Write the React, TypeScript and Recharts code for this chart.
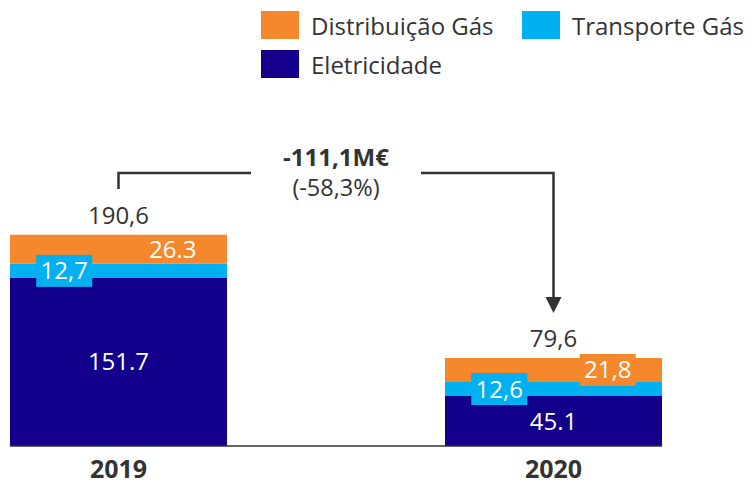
import { BarChart, Bar, XAxis, YAxis, Legend, LabelList, ReferenceLine } from 'recharts';

const years = ['2019', '2020'];
const eletricidade = [151.7, 45.1];
const transporteGas = [12.7, 12.6];
const distribuicaoGas = [26.3, 21.8];
const totalLabels = ['190,6', '79,6'];
const eletricidadeLabels = ['151.7', '45.1'];
const transporteLabels = ['12,7', '12,6'];
const distribuicaoLabels = ['26.3', '21,8'];
const changeValue = '-111,1M€';
const changePct = '(-58,3%)';

const ORANGE = '#F5872D';
const CYAN = '#00B0F0';
const NAVY = '#12008A';
const TEXT = '#333333';
const FONT = '"Open Sans", sans-serif';
const BAR_SIZE = 217;
// the svg is wider than the page so the two bands sit where the bars are
const SHIFT = 99;

const data = years.map((year, i) => ({
  year,
  eletricidade: eletricidade[i],
  transporte: transporteGas[i],
  distribuicao: distribuicaoGas[i],
}));

const segmentLabel = (labels: string[], color: string, xFrac: number, boxed: boolean[]) =>
  (props: any) => {
    const { x, y, width, height, index } = props;
    const cx = Number(x) + Number(width) * xFrac;
    const cy = Number(y) + Number(height) / 2;
    return (
      <g>
        {boxed[index] && <rect x={cx - 28} y={cy - 16} width={56} height={32} fill={color} />}
        <text x={cx} y={cy + 8.5} textAnchor="middle" fill="#ffffff" fontSize={24} fontFamily={FONT}>
          {labels[index]}
        </text>
      </g>
    );
  };

const totalLabel = (props: any) => {
  const { x, y, width, index } = props;
  return (
    <text x={Number(x) + Number(width) / 2} y={Number(y) - 11} textAnchor="middle" fill={TEXT} fontSize={24} fontFamily={FONT}>
      {totalLabels[index]}
    </text>
  );
};

const Baseline = (props: any) => {
  const { x1, x2, y1 } = props;
  return <line x1={x1 - BAR_SIZE / 2} x2={x2 + BAR_SIZE / 2} y1={y1} y2={y1} stroke={TEXT} strokeWidth={1.5} />;
};

const Bracket = (props: any) => {
  const { x1, x2 } = props;
  const mid = (x1 + x2) / 2;
  const top = 173;
  return (
    <g>
      <path d={`M${x1},189 V${top} H${mid - 85}`} fill="none" stroke={TEXT} strokeWidth={2.5} />
      <path d={`M${mid + 85},${top} H${x2} V300`} fill="none" stroke={TEXT} strokeWidth={2.5} />
      <path d={`M${x2 - 8},297 L${x2 + 8},297 L${x2},313 Z`} fill={TEXT} />
      <text x={mid} y={165.5} textAnchor="middle" fill={TEXT} fontSize={24} fontWeight="bold" fontFamily={FONT}>
        {changeValue}
      </text>
      <text x={mid} y={196} textAnchor="middle" fill={TEXT} fontSize={23.5} fontFamily={FONT}>
        {changePct}
      </text>
    </g>
  );
};

const YearTick = (props: any) => {
  const { x, y, payload } = props;
  return (
    <text x={x} y={y + 32} textAnchor="middle" fill={TEXT} fontSize={25} fontWeight="bold" fontFamily={FONT}>
      {payload.value}
    </text>
  );
};

const legendOrder = ['Distribuição Gás', 'Transporte Gás', 'Eletricidade'];

const LegendContent = (props: any) => {
  const items = [...(props.payload || [])].sort(
    (a: any, b: any) => legendOrder.indexOf(a.value) - legendOrder.indexOf(b.value)
  );
  return (
    <div style={{ display: 'grid', gridTemplateColumns: '261px auto', rowGap: 11, fontFamily: FONT, fontSize: 24, color: TEXT }}>
      {items.map((item: any) => (
        <div key={item.value} style={{ display: 'flex', alignItems: 'center', height: 28 }}>
          <span style={{ width: 38, height: 28, background: item.color, marginRight: 12, display: 'inline-block' }} />
          <span style={{ whiteSpace: 'nowrap' }}>{item.value}</span>
        </div>
      ))}
    </div>
  );
};

export default function App() {
  return (
    <div style={{ position: 'absolute', left: 0, top: 0, width: 750, height: 483, overflow: 'hidden', background: '#fff' }}>
      <div style={{ position: 'absolute', left: -SHIFT, top: 0 }}>
        <BarChart width={750 + 120} height={483} data={data} margin={{ top: 224.4, right: 0, bottom: 0, left: 0 }} barSize={BAR_SIZE}>
          <XAxis dataKey="year" height={37} axisLine={false} tickLine={false} tickSize={0} tickMargin={0} tick={YearTick} interval={0} />
          <YAxis hide domain={[0, 200]} />
          <Legend
            layout="vertical"
            align="center"
            verticalAlign="middle"
            content={LegendContent}
            wrapperStyle={{ left: 261 + SHIFT, top: 11, width: 480 }}
          />
          <Bar dataKey="eletricidade" name="Eletricidade" stackId="a" fill={NAVY} isAnimationActive={false}>
            <LabelList dataKey="eletricidade" content={segmentLabel(eletricidadeLabels, NAVY, 0.5, [false, false])} />
          </Bar>
          <Bar dataKey="transporte" name="Transporte Gás" stackId="a" fill={CYAN} isAnimationActive={false}>
            <LabelList dataKey="transporte" content={segmentLabel(transporteLabels, CYAN, 0.25, [true, true])} />
          </Bar>
          <Bar dataKey="distribuicao" name="Distribuição Gás" stackId="a" fill={ORANGE} isAnimationActive={false}>
            <LabelList dataKey="distribuicao" content={segmentLabel(distribuicaoLabels, ORANGE, 0.75, [false, true])} />
            <LabelList dataKey="distribuicao" content={totalLabel} />
          </Bar>
          <ReferenceLine segment={[{ x: '2019', y: 0 }, { x: '2020', y: 0 }]} shape={Baseline} ifOverflow="visible" />
          <ReferenceLine segment={[{ x: '2019', y: 0 }, { x: '2020', y: 0 }]} shape={Bracket} ifOverflow="visible" />
        </BarChart>
      </div>
    </div>
  );
}
